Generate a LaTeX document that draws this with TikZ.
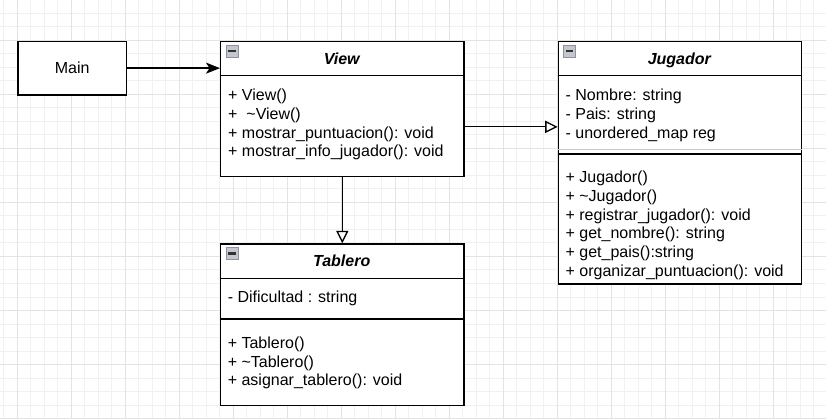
\documentclass[tikz,border=0pt]{standalone}
\usepackage{fontspec}
\setmainfont{Liberation Sans}
\usetikzlibrary{arrows.meta,calc}
\definecolor{minorgrid}{HTML}{F1F1F1}
\definecolor{majorgrid}{HTML}{E3E3E3}
\definecolor{iconfill}{HTML}{C4C7CE}
\definecolor{icondraw}{HTML}{8E929C}
\definecolor{icondark}{HTML}{333333}
\tikzset{
  box/.style={draw=black, fill=white, line width=1.3pt, inner sep=0pt, anchor=north west},
  sepline/.style={draw=black, line width=1.3pt},
  txt/.style={inner sep=0pt, font=\fontsize{16}{18.7}\selectfont, anchor=base west},
  ttl/.style={inner sep=0pt, font=\fontsize{16}{18.7}\selectfont\bfseries\itshape, anchor=base},
  conn/.style={draw=black, line width=1.3pt},
  opentip/.style={-{Triangle[open, length=12.5pt, width=12pt, fill=white]}},
  minusicon/.pic={
    \filldraw[fill=iconfill, draw=icondraw, line width=0.8pt] (0,0) rectangle (12,12);
    \fill[icondark] (2.3,5) rectangle (9.7,7.4);
  }
}
\begin{document}
\begin{tikzpicture}[x=1pt,y=-1pt]
\useasboundingbox (0,0) rectangle (826,419);
\fill[white] (0,0) rectangle (826,419);
% grid
\foreach \i in {0,...,61} {\draw[minorgrid, line width=1pt] (3.5+13.5*\i,0) -- (3.5+13.5*\i,419);}
\foreach \j in {0,...,31} {\draw[minorgrid, line width=1pt] (0,13.5*\j) -- (826,13.5*\j);}
\foreach \i in {0,...,14} {\draw[majorgrid, line width=1pt] (17+54*\i,0) -- (17+54*\i,419);}
\foreach \j in {0,...,7} {\draw[majorgrid, line width=1pt] (0,40.5+54*\j) -- (826,40.5+54*\j);}

% Main
\node[box, minimum width=108.5, minimum height=53.6, font=\fontsize{16}{18.7}\selectfont] (Main) at (17.3,40.7) {Main};

% View
\node[box, minimum width=243.3, minimum height=135] (View) at (220,40.7) {};
\draw[sepline] ([yshift=-35pt]View.north west) -- ([yshift=-35pt]View.north east);
\pic at (226,45) {minusicon};
\node[ttl] (ViewT) at (341.7,65) {View};
\node[txt] (v1) at (228,100.7) {+ View()};
\node[txt] (v2) at (228,119.4) {+\ \ \textasciitilde View()};
\node[txt] (v3) at (228,138.1) {+ mostrar\_puntuacion(): void};
\node[txt] (v4) at (228,156.8) {+ mostrar\_info\_jugador(): void};

% Jugador
\node[box, minimum width=243.3, minimum height=242.6] (Jug) at (557.7,40.7) {};
\draw[sepline] ([yshift=-34.5pt]Jug.north west) -- ([yshift=-34.5pt]Jug.north east);
\draw[gray!45, line width=0.8pt] ([yshift=-108.6pt]Jug.north west) -- ([yshift=-108.6pt]Jug.north east);
\draw[sepline] ([yshift=-113.3pt]Jug.north west) -- ([yshift=-113.3pt]Jug.north east);
\pic at (563.5,45) {minusicon};
\node[ttl] (JugT) at (679.3,65) {Jugador};
\node[txt] (j1) at (565.4,100.7) {- Nombre: string};
\node[txt] (j2) at (565.4,119.4) {- Pais: string};
\node[txt] (j3) at (565.4,138.1) {- unordered\_map reg};
\node[txt] (j4) at (565.4,182.7) {+ Jugador()};
\node[txt] (j5) at (565.4,201.4) {+ \textasciitilde Jugador()};
\node[txt] (j6) at (565.4,220.1) {+ registrar\_jugador(): void};
\node[txt] (j7) at (565.4,238.8) {+ get\_nombre(): string};
\node[txt] (j8) at (565.4,257.5) {+ get\_pais():string};
\node[txt] (j9) at (565.4,276.2) {+ organizar\_puntuacion(): void};

% Tablero
\node[box, minimum width=243.3, minimum height=161.7] (Tab) at (220,243.3) {};
\draw[sepline] ([yshift=-35pt]Tab.north west) -- ([yshift=-35pt]Tab.north east);
\draw[sepline] ([yshift=-75.7pt]Tab.north west) -- ([yshift=-75.7pt]Tab.north east);
\pic at (226,247.5) {minusicon};
\node[ttl] (TabT) at (341.7,266.7) {Tablero};
\node[txt] (t1) at (227.6,302.3) {- Dificultad : string};
\node[txt] (t2) at (227.6,348.3) {+ Tablero()};
\node[txt] (t3) at (227.6,367) {+ \textasciitilde Tablero()};
\node[txt] (t4) at (227.6,385.7) {+ asignar\_tablero(): void};

% connectors
\draw[conn, -{Stealth[length=14pt, width=11pt, inset=3.5pt]}] (Main.east) -- (Main.east -| View.west);
\draw[conn, opentip] ([yshift=-18pt]View.east) -- ([yshift=-18pt]View.east -| Jug.west);
\draw[conn, opentip] (View.south) -- (Tab.north);
\end{tikzpicture}
\end{document}
